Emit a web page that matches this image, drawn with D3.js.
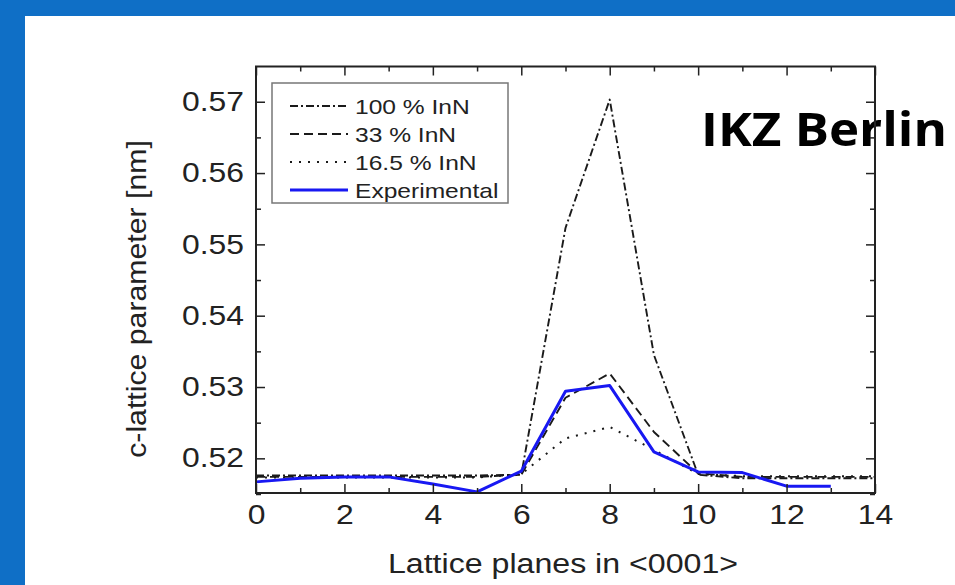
<!DOCTYPE html>
<html>
<head>
<meta charset="utf-8">
<script src="https://cdn.jsdelivr.net/npm/d3@7"></script>
<style>
    body { margin: 0; background: #ffffff; }
    svg { display: block; }
</style>
</head>
<body>
<svg id="chart"></svg>
<script>
// Lattice plane index along <0001>
const planes = [0, 1, 2, 3, 4, 5, 6, 7, 8, 9, 10, 11, 12, 13, 14];
// Simulated c-lattice parameter [nm]
const inn100 = [0.5176, 0.5176, 0.5176, 0.5176, 0.5176, 0.5176, 0.5177, 0.5523, 0.5703, 0.5345, 0.5177, 0.5172, 0.5172, 0.5172, 0.5172];
const inn33 = [0.5174, 0.5174, 0.5174, 0.5174, 0.5174, 0.5174, 0.5177, 0.5285, 0.5319, 0.5237, 0.5179, 0.5174, 0.5174, 0.5174, 0.5174];
const inn16 = [0.5173, 0.5173, 0.5173, 0.5173, 0.5173, 0.5173, 0.5178, 0.5228, 0.5244, 0.5212, 0.5178, 0.5175, 0.5175, 0.5175, 0.5175];
// Measured, planes 0..13
const experimental = [0.5167, 0.5172, 0.5174, 0.5174, 0.5164, 0.5153, 0.5182, 0.5294, 0.5302, 0.5209, 0.5181, 0.5180, 0.5161, 0.5161];

const xTicks = [0, 2, 4, 6, 8, 10, 12, 14];
const xMinor = [1, 3, 5, 7, 9, 11, 13];
const yTicks = [0.52, 0.53, 0.54, 0.55, 0.56, 0.57];
const yMinor = [0.515, 0.525, 0.535, 0.545, 0.555, 0.565];

const series = [
    {name: "100 % InN", values: inn100, color: "#1a1a1a", width: 1.9, dash: "8,3,2,3"},
    {name: "33 % InN", values: inn33, color: "#1a1a1a", width: 1.9, dash: "9,5"},
    {name: "16.5 % InN", values: inn16, color: "#1a1a1a", width: 2, dash: "2,7"},
    {name: "Experimental", values: experimental, color: "#1818f2", width: 3, dash: null}
];

const font = "'Liberation Sans', Arial, Helvetica, sans-serif";
const ink = "#222";

// the source picture is stretched sideways, so widen the glyphs a bit
function stretch(sel, k) {
    sel.each(function () {
        let w = this.getComputedTextLength();
        d3.select(this).attr("textLength", w * k).attr("lengthAdjust", "spacingAndGlyphs");
    });
}

let width = 955,
    height = 585;
let svg = d3.select("#chart").attr("width", width).attr("height", height);

// slide frame
svg.append("rect").attr("x", 0).attr("y", 0).attr("width", width).attr("height", 16).attr("fill", "#0f6fc6");
svg.append("rect").attr("x", 0).attr("y", 0).attr("width", 25).attr("height", height).attr("fill", "#0f6fc6");

let x = d3.scaleLinear().domain([0, 14]).range([256, 875]);
let y = d3.scaleLinear().domain([0.51514, 0.57494]).range([493, 66.5]);

svg.append("text")
    .attr("x", 701)
    .attr("y", 146)
    .attr("font-family", "'Open Sans', Lato, sans-serif")
    .attr("font-weight", "bold")
    .attr("font-size", 47)
    .attr("fill", "#000")
    .attr("textLength", 246)
    .attr("lengthAdjust", "spacingAndGlyphs")
    .text("IKZ Berlin");

let line = d3.line()
    .x((d, i) => x(planes[i]))
    .y(d => y(d));

svg.append("g").attr("id", "lines")
    .selectAll("path")
    .data(series)
    .join("path")
    .attr("d", d => line(d.values))
    .attr("fill", "none")
    .attr("stroke", d => d.color)
    .attr("stroke-width", d => d.width)
    .attr("stroke-dasharray", d => d.dash)
    .attr("stroke-linejoin", "round");

// axes: ticks point inward on all four sides
function styleAxis(g) {
    g.select(".domain").remove();
    g.selectAll("line").attr("stroke", ink).attr("stroke-width", 1.5);
    g.selectAll("text").attr("font-family", font).attr("font-size", 27).attr("fill", ink);
}

let bottom = svg.append("g").attr("transform", "translate(0,493)")
    .call(d3.axisBottom(x).tickValues(xTicks).tickSize(-9).tickPadding(12).tickFormat(d3.format("d")))
    .call(styleAxis);
svg.append("g").attr("transform", "translate(0,493)")
    .call(d3.axisBottom(x).tickValues(xMinor).tickSize(-5).tickFormat(""))
    .call(styleAxis);
svg.append("g").attr("transform", "translate(0,66.5)")
    .call(d3.axisTop(x).tickValues(xTicks).tickSize(-9).tickFormat(""))
    .call(styleAxis);
svg.append("g").attr("transform", "translate(0,66.5)")
    .call(d3.axisTop(x).tickValues(xMinor).tickSize(-5).tickFormat(""))
    .call(styleAxis);

let left = svg.append("g").attr("transform", "translate(256,0)")
    .call(d3.axisLeft(y).tickValues(yTicks).tickSize(-9).tickPadding(12).tickFormat(d3.format(".2f")))
    .call(styleAxis);
svg.append("g").attr("transform", "translate(256,0)")
    .call(d3.axisLeft(y).tickValues(yMinor).tickSize(-5).tickFormat(""))
    .call(styleAxis);
svg.append("g").attr("transform", "translate(875,0)")
    .call(d3.axisRight(y).tickValues(yTicks).tickSize(-9).tickFormat(""))
    .call(styleAxis);
svg.append("g").attr("transform", "translate(875,0)")
    .call(d3.axisRight(y).tickValues(yMinor).tickSize(-5).tickFormat(""))
    .call(styleAxis);

bottom.selectAll("text").call(stretch, 1.18);
left.selectAll("text").call(stretch, 1.18);

svg.append("rect")
    .attr("x", x(0))
    .attr("y", y.range()[1])
    .attr("width", x(14) - x(0))
    .attr("height", y.range()[0] - y.range()[1])
    .attr("fill", "none")
    .attr("stroke", ink)
    .attr("stroke-width", 2);

// axis titles
svg.append("text")
    .attr("x", 563)
    .attr("y", 573)
    .attr("text-anchor", "middle")
    .attr("font-family", font)
    .attr("font-size", 27)
    .attr("fill", ink)
    .text("Lattice planes in <0001>")
    .call(stretch, 1.19);

svg.append("text")
    .attr("transform", "translate(146,299) rotate(-90)")
    .attr("text-anchor", "middle")
    .attr("font-family", font)
    .attr("font-size", 27)
    .attr("fill", ink)
    .text("c-lattice parameter [nm]")
    .call(stretch, 1.12);

// legend
let legend = svg.append("g").attr("id", "legend");
legend.append("rect")
    .attr("x", 272)
    .attr("y", 83)
    .attr("width", 236)
    .attr("height", 120)
    .attr("fill", "#fff")
    .attr("stroke", "#777")
    .attr("stroke-width", 1.5);

let rows = legend.selectAll("g.row")
    .data(series)
    .join("g")
    .attr("class", "row")
    .attr("transform", (d, i) => "translate(0," + (106 + i * 28) + ")");

rows.append("line")
    .attr("x1", 290)
    .attr("x2", 348)
    .attr("stroke", d => d.color)
    .attr("stroke-width", d => d.width)
    .attr("stroke-dasharray", d => d.dash);

rows.append("text")
    .attr("x", 355)
    .attr("dy", "0.36em")
    .attr("font-family", font)
    .attr("font-size", 21)
    .attr("fill", ink)
    .text(d => d.name)
    .call(stretch, 1.17);
</script>
</body>
</html>
